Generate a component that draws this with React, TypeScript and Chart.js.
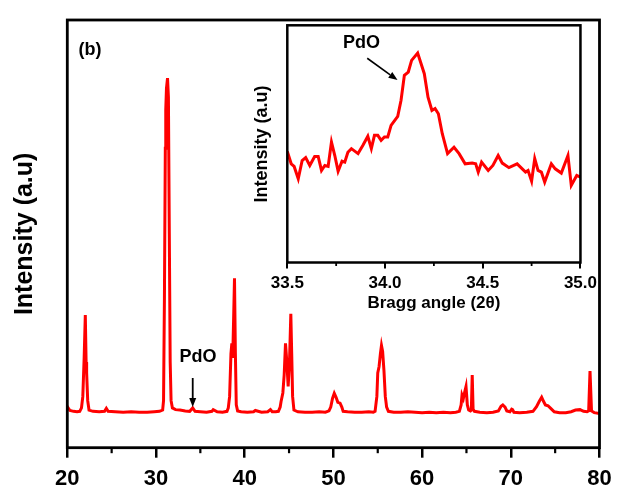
import { useEffect, useRef } from "react";
import { Chart, registerables } from "chart.js";

Chart.register(...registerables);

// ---------- Main XRD pattern (2θ in degrees, intensity in a.u.) ----------
const mainAngles = [
  20.0, 20.1, 20.3, 20.7, 21.1, 21.4, 21.6, 21.75, 21.9, 22.03, 22.12, 22.18, 22.3, 22.45,
  22.9, 23.6, 24.2, 24.4, 24.6, 25.4, 26.3, 27.2, 28.1, 29.0, 29.8, 30.4, 30.75, 30.85,
  30.95, 31.05, 31.1, 31.18, 31.3, 31.4, 31.5, 31.6, 31.7, 31.85, 32.2, 32.7, 33.3, 33.8,
  34.14, 34.4, 35.0, 35.7, 36.3, 36.45, 36.9, 37.5, 38.0, 38.15, 38.3, 38.45, 38.55, 38.65,
  38.75, 38.85, 38.95, 39.05, 39.2, 39.6, 40.3, 41.0, 41.2, 41.9, 42.6, 42.9, 43.1, 43.5,
  43.8, 44.0, 44.1, 44.3, 44.45, 44.6, 44.75, 44.9, 45.05, 45.2, 45.3, 45.4, 45.55, 46.0,
  46.8, 47.6, 48.4, 49.1, 49.5, 49.7, 49.9, 50.1, 50.3, 50.5, 50.75, 50.95, 51.1, 51.6,
  52.4, 53.2, 54.0, 54.5, 54.7, 54.9, 55.0, 55.15, 55.3, 55.42, 55.55, 55.7, 55.85, 56.0,
  56.2, 56.8, 57.6, 58.4, 59.2, 60.0, 60.8, 61.6, 62.4, 63.2, 63.8, 64.2, 64.4, 64.5,
  64.65, 64.8, 64.95, 65.1, 65.25, 65.45, 65.55, 65.65, 65.75, 65.9, 66.5, 67.3, 68.0,
  68.6, 68.9, 69.1, 69.35, 69.55, 69.9, 70.1, 70.2, 70.35, 71.0, 71.8, 72.5, 72.9, 73.2,
  73.48, 73.7, 73.9, 74.2, 74.5, 74.9, 75.5, 76.2, 76.8, 77.3, 77.8, 78.2, 78.6, 78.78,
  78.93, 79.1, 79.4, 80.0,
];
const mainIntensity = [
  8.8, 9.3, 8.7, 8.5, 8.4, 8.5, 9.3, 12, 21, 31, 20, 17.5, 11, 8.8,
  8.5, 8.4, 8.5, 9.2, 8.5, 8.4, 8.3, 8.4, 8.3, 8.3, 8.4, 8.5, 8.8, 11,
  35, 70, 79, 84, 86.4, 82, 50, 20, 11, 9.3, 8.9, 8.8, 8.6, 8.5,
  9.3, 8.5, 8.4, 8.3, 8.5, 8.9, 8.4, 8.3, 8.5, 9.3, 12, 22, 24.4, 21,
  30, 39.6, 22, 10, 8.6, 8.4, 8.3, 8.4, 8.7, 8.3, 8.4, 8.9, 8.4, 8.4,
  8.5, 9.5, 10.8, 12.8, 17, 24.4, 20, 14.3, 20, 31.3, 22, 12, 8.8, 8.4,
  8.3, 8.3, 8.4, 8.3, 8.6, 9.5, 11.5, 12.7, 11.8, 10.6, 10.4, 9.5, 8.5, 8.4,
  8.3, 8.3, 8.4, 8.3, 8.5, 12, 17.5, 19, 22, 23.9, 22.5, 18, 12, 9.5,
  8.5, 8.3, 8.3, 8.4, 8.3, 8.2, 8.3, 8.2, 8.3, 8.2, 8.3, 8.5, 10, 12.3,
  11.5, 13, 14.3, 10, 8.8, 8.6, 8.8, 17, 9, 8.5, 8.3, 8.2, 8.3,
  8.6, 9.7, 10, 9.5, 8.6, 8.4, 9.0, 8.9, 8.3, 8.2, 8.3, 8.5, 9.6, 10.8,
  11.8, 10.8, 10, 9.8, 9.2, 8.4, 8.2, 8.2, 8.4, 8.8, 8.9, 8.5, 8.4, 8.6,
  17.9, 8.6, 8.2, 8.0,
];
const mainMajorTicks = [20, 30, 40, 50, 60, 70, 80];
const mainMinorTicks = [25, 35, 45, 55, 65, 75];

// ---------- Inset: zoom on the PdO reflection ----------
const insetAngles = [
  33.5, 33.52, 33.535, 33.556, 33.576, 33.594, 33.615, 33.64, 33.658, 33.675, 33.692, 33.709,
  33.726, 33.743, 33.76, 33.78, 33.794, 33.81, 33.828, 33.862, 33.887, 33.912, 33.93, 33.946,
  33.963, 33.98, 33.997, 34.014, 34.031, 34.065, 34.082, 34.099, 34.119, 34.136, 34.167,
  34.201, 34.22, 34.24, 34.256, 34.273, 34.293, 34.32, 34.353, 34.379, 34.41, 34.446, 34.464,
  34.477, 34.494, 34.528, 34.552, 34.579, 34.6, 34.634, 34.676, 34.719, 34.732, 34.75, 34.766,
  34.783, 34.8, 34.817, 34.851, 34.871, 34.902, 34.936, 34.953, 34.981, 35.0,
];
const insetIntensity = [
  46.8, 41.6, 40.5, 35.3, 43.0, 44.2, 40.9, 44.7, 44.7, 38.8, 40.9, 40.5,
  50.8, 45.1, 38.5, 42.7, 42.3, 46.5, 48.0, 45.9, 49.4, 53.2, 48.0, 53.6,
  53.6, 51.5, 52.9, 52.9, 57.8, 61.6, 68.4, 78.9, 80.3, 85.2, 88.3,
  79.6, 69.7, 64.1, 64.9, 62.7, 54.3, 45.9, 48.6, 45.9, 41.6, 41.9, 41.6,
  38.1, 42.3, 38.8, 40.9, 45.1, 41.9, 40.0, 41.6, 38.1, 38.8, 34.3, 43.8,
  38.8, 38.1, 33.9, 41.6, 39.5, 37.7, 45.1, 32.5, 36.7, 36.0,
];
const insetMinorTicks = [33.75, 34.25, 34.75];

const FONT = "'Liberation Sans', Arial, Helvetica, sans-serif";

function drawArrow(ctx: CanvasRenderingContext2D, x1: number, y1: number, x2: number, y2: number, head: number, half: number) {
  const ang = Math.atan2(y2 - y1, x2 - x1);
  const bx = x2 - head * Math.cos(ang);
  const by = y2 - head * Math.sin(ang);
  ctx.beginPath();
  ctx.moveTo(x1, y1);
  ctx.lineTo(bx, by);
  ctx.stroke();
  ctx.beginPath();
  ctx.moveTo(x2, y2);
  ctx.lineTo(bx + half * Math.sin(ang), by - half * Math.cos(ang));
  ctx.lineTo(bx - half * Math.sin(ang), by + half * Math.cos(ang));
  ctx.closePath();
  ctx.fill();
}

const mainDecor = {
  id: "mainDecor",
  afterDraw(chart: any) {
    const { ctx, chartArea, scales } = chart;
    const { left, top, right, bottom } = chartArea;
    ctx.save();
    ctx.strokeStyle = "#000";
    ctx.fillStyle = "#000";
    ctx.lineWidth = 2.8;
    ctx.strokeRect(left, top, right - left, bottom - top);
    ctx.lineWidth = 2.2;
    for (const v of mainMinorTicks) {
      const px = scales.x.getPixelForValue(v);
      ctx.beginPath();
      ctx.moveTo(px, bottom);
      ctx.lineTo(px, bottom + 5.5);
      ctx.stroke();
    }
    ctx.font = `bold 18px ${FONT}`;
    ctx.textAlign = "center";
    ctx.textBaseline = "middle";
    ctx.fillText("(b)", scales.x.getPixelForValue(22.56), scales.y.getPixelForValue(93));
    ctx.fillText("PdO", scales.x.getPixelForValue(34.73), scales.y.getPixelForValue(21.2));
    ctx.lineWidth = 1.8;
    const ax = scales.x.getPixelForValue(34.14);
    drawArrow(ctx, ax, scales.y.getPixelForValue(16.3), ax, scales.y.getPixelForValue(9.5), 9, 3.5);
    ctx.restore();
  },
};

const insetDecor = {
  id: "insetDecor",
  beforeDraw(chart: any) {
    const { ctx, chartArea } = chart;
    ctx.save();
    ctx.fillStyle = "#fff";
    ctx.fillRect(chartArea.left, chartArea.top, chartArea.right - chartArea.left, chartArea.bottom - chartArea.top);
    ctx.restore();
  },
  afterDraw(chart: any) {
    const { ctx, chartArea, scales } = chart;
    const { left, top, right, bottom } = chartArea;
    ctx.save();
    ctx.strokeStyle = "#000";
    ctx.fillStyle = "#000";
    ctx.lineWidth = 2.5;
    ctx.strokeRect(left, top, right - left, bottom - top);
    ctx.lineWidth = 1.8;
    for (const v of insetMinorTicks) {
      const px = scales.x.getPixelForValue(v);
      ctx.beginPath();
      ctx.moveTo(px, bottom);
      ctx.lineTo(px, bottom + 3.5);
      ctx.stroke();
    }
    ctx.font = `bold 18px ${FONT}`;
    ctx.textAlign = "center";
    ctx.textBaseline = "middle";
    ctx.fillText("PdO", scales.x.getPixelForValue(33.88), scales.y.getPixelForValue(92.5));
    ctx.lineWidth = 1.6;
    drawArrow(
      ctx,
      scales.x.getPixelForValue(33.909),
      scales.y.getPixelForValue(86.1),
      scales.x.getPixelForValue(34.064),
      scales.y.getPixelForValue(76.9),
      9,
      3.5
    );
    ctx.restore();
  },
};

export default function App() {
  const mainRef = useRef<HTMLCanvasElement | null>(null);
  const insetRef = useRef<HTMLCanvasElement | null>(null);

  useEffect(() => {
    if (!mainRef.current || !insetRef.current) return;
    const main = new Chart(mainRef.current, {
      type: "line",
      data: {
        datasets: [
          {
            data: mainAngles.map((x, i) => ({ x, y: mainIntensity[i] })),
            borderColor: "#ff0000",
            borderWidth: 3,
            pointRadius: 0,
            tension: 0,
            fill: false,
          },
        ],
      },
      options: {
        animation: false,
        responsive: false,
        devicePixelRatio: 1,
        layout: { padding: { left: 0, right: 21.5, top: 20, bottom: 0 } },
        plugins: { legend: { display: false }, tooltip: { enabled: false } },
        scales: {
          x: {
            type: "linear",
            min: 20,
            max: 80,
            afterFit: (s: any) => {
              s.height = 49.3;
            },
            afterBuildTicks: (s: any) => {
              s.ticks = mainMajorTicks.map((v) => ({ value: v }));
            },
            ticks: {
              font: { family: FONT, size: 22, weight: "bold" },
              color: "#000",
              padding: 8,
              autoSkip: false,
              maxRotation: 0,
            },
            grid: { display: true, drawOnChartArea: false, drawTicks: true, tickLength: 10, color: "#000", lineWidth: 2.5 },
            border: { display: false },
          },
          y: {
            min: 0,
            max: 100,
            afterFit: (s: any) => {
              s.width = 67.3;
            },
            ticks: { display: false },
            grid: { display: false },
            border: { display: false },
            title: {
              display: true,
              text: "Intensity (a.u)",
              font: { family: FONT, size: 25, weight: "bold" },
              color: "#000",
              padding: { top: 10, bottom: 0 },
            },
          },
        },
      } as any,
      plugins: [mainDecor],
    });

    const inset = new Chart(insetRef.current, {
      type: "line",
      data: {
        datasets: [
          {
            data: insetAngles.map((x, i) => ({ x, y: insetIntensity[i] })),
            borderColor: "#ff0000",
            borderWidth: 3,
            pointRadius: 0,
            tension: 0,
            fill: false,
          },
        ],
      },
      options: {
        animation: false,
        responsive: false,
        devicePixelRatio: 1,
        layout: { padding: { left: 0, right: 20, top: 15.3, bottom: 0 } },
        plugins: { legend: { display: false }, tooltip: { enabled: false } },
        scales: {
          x: {
            type: "linear",
            min: 33.5,
            max: 35.0,
            afterFit: (s: any) => {
              s.height = 57.5;
            },
            ticks: {
              stepSize: 0.5,
              callback: (v: any) => Number(v).toFixed(1),
              font: { family: FONT, size: 17, weight: "bold" },
              color: "#000",
              padding: 5,
              autoSkip: false,
              maxRotation: 0,
            },
            grid: { display: true, drawOnChartArea: false, drawTicks: true, tickLength: 6, color: "#000", lineWidth: 2 },
            border: { display: false },
            title: {
              display: true,
              text: "Bragg angle (2θ)",
              font: { family: FONT, size: 17, weight: "bold" },
              color: "#000",
              padding: { top: 0, bottom: 6 },
            },
          },
          y: {
            min: 0,
            max: 100,
            afterFit: (s: any) => {
              s.width = 47.3;
            },
            ticks: { display: false },
            grid: { display: false },
            border: { display: false },
            title: {
              display: true,
              text: "Intensity (a.u)",
              font: { family: FONT, size: 18, weight: "bold" },
              color: "#000",
              padding: { top: 11, bottom: 0 },
            },
          },
        },
      } as any,
      plugins: [insetDecor],
    });

    return () => {
      main.destroy();
      inset.destroy();
    };
  }, []);

  return (
    <div style={{ position: "fixed", left: 0, top: 0, width: 621, height: 497, background: "#fff" }}>
      <canvas ref={mainRef} width={621} height={497} style={{ position: "absolute", left: 0, top: 0, width: 621, height: 497 }} />
      <canvas ref={insetRef} width={362} height={310} style={{ position: "absolute", left: 240, top: 10, width: 362, height: 310 }} />
    </div>
  );
}
